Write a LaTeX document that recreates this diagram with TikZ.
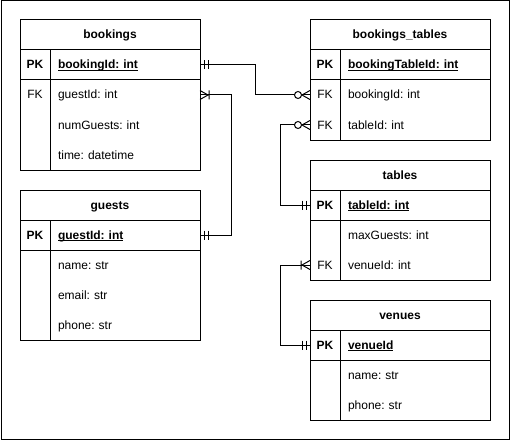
\documentclass[tikz,border=0pt]{standalone}
\usepackage{fontspec}
\setmainfont{Liberation Sans}
\usetikzlibrary{positioning}

\newcommand{\erfont}{\fontsize{12}{14}\selectfont\frenchspacing}
\newcommand{\pkline}[1]{\setbox0\hbox{#1}\rlap{\vrule width\wd0 height -1.3pt depth 2.3pt}\box0}

\tikzstyle{keycell}=[minimum width=30pt, inner sep=0pt, outer sep=0pt, text height=8.5pt, text depth=0.5pt, font=\erfont]
\tikzstyle{pkcell}=[keycell, font=\erfont\bfseries]
\tikzstyle{field}=[anchor=west, text width=134pt, inner xsep=8pt, inner ysep=0pt, outer sep=0pt, text height=8.5pt, text depth=0.5pt, font=\erfont]
\tikzstyle{pkfield}=[field, font=\erfont\bfseries]
\tikzstyle{tabtitle}=[minimum width=180pt, inner sep=0pt, text height=8.5pt, text depth=0.5pt, font=\erfont\bfseries]
\tikzstyle{link}=[line width=1pt]

\tikzset{
  mandone/.pic={\draw[line width=1pt] (4,-4.5) -- (4,4.5) (8,-4.5) -- (8,4.5);},
  onemany/.pic={\draw[line width=1pt] (0,-4.5) -- (8,0) -- (0,4.5) (9,-4.5) -- (9,4.5);},
  zeromany/.pic={\draw[line width=1pt] (0,-4.5) -- (8,0) -- (0,4.5);
    \draw[line width=1pt, fill=white] (12,0) circle (3.5pt);}
}

\begin{document}
\begin{tikzpicture}[x=1pt, y=-1pt, line width=1pt]
      \useasboundingbox (0,0) rectangle (511,441);
      \draw (1,1) rectangle (509.5,439.5);

      % bookings
      \draw (20,20) rectangle (200,170);
      \draw (20,50) -- (200,50) (20,80) -- (200,80) (50,50) -- (50,170);
      \node[tabtitle] (bk) at (110,35) {bookings};
      \node[pkcell] (bk-pkk) at (35,65) {PK};
      \node[pkfield] (bk-pk) at (50,65) {\pkline{bookingId: int}};
      \node[keycell] (bk-fkk) at (35,95) {FK};
      \node[field] (bk-fk) at (50,95) {guestId: int};
      \node[field] (bk-num) at (50,125) {numGuests: int};
      \node[field] (bk-time) at (50,155) {time: datetime};

      % guests
      \draw (20,190) rectangle (200,340);
      \draw (20,220) -- (200,220) (20,250) -- (200,250) (50,220) -- (50,340);
      \node[tabtitle] (gu) at (110,205) {guests};
      \node[pkcell] (gu-pkk) at (35,235) {PK};
      \node[pkfield] (gu-pk) at (50,235) {\pkline{guestId: int}};
      \node[field] (gu-name) at (50,265) {name: str};
      \node[field] (gu-mail) at (50,295) {email: str};
      \node[field] (gu-phone) at (50,325) {phone: str};

      % bookings_tables
      \draw (310,20) rectangle (490,140);
      \draw (310,50) -- (490,50) (310,80) -- (490,80) (340,50) -- (340,140);
      \node[tabtitle] (bt) at (400,35) {bookings\_tables};
      \node[pkcell] (bt-pkk) at (325,65) {PK};
      \node[pkfield] (bt-pk) at (340,65) {\pkline{bookingTableId: int}};
      \node[keycell] (bt-fkb) at (325,95) {FK};
      \node[field] (bt-bk) at (340,95) {bookingId: int};
      \node[keycell] (bt-fkt) at (325,125) {FK};
      \node[field] (bt-tb) at (340,125) {tableId: int};

      % tables
      \draw (310,160) rectangle (490,280);
      \draw (310,190) -- (490,190) (310,220) -- (490,220) (340,190) -- (340,280);
      \node[tabtitle] (tb) at (400,175) {tables};
      \node[pkcell] (tb-pkk) at (325,205) {PK};
      \node[pkfield] (tb-pk) at (340,205) {\pkline{tableId: int}};
      \node[field] (tb-max) at (340,235) {maxGuests: int};
      \node[keycell] (tb-fkv) at (325,265) {FK};
      \node[field] (tb-vn) at (340,265) {venueId: int};

      % venues
      \draw (310,300) rectangle (490,420);
      \draw (310,330) -- (490,330) (310,360) -- (490,360) (340,330) -- (340,420);
      \node[tabtitle] (vn) at (400,315) {venues};
      \node[pkcell] (vn-pkk) at (325,345) {PK};
      \node[pkfield] (vn-pk) at (340,345) {\pkline{venueId}};
      \node[field] (vn-name) at (340,375) {name: str};
      \node[field] (vn-phone) at (340,405) {phone: str};

      % relations
      \draw[link] (bk-pk.east) -- ++(55,0) |- (bt-fkb.west);
      \draw[link] (bk-fk.east) -- ++(31,0) |- (gu-pk.east);
      \draw[link] (bt-fkt.west) -- ++(-30,0) |- (tb-pkk.west);
      \draw[link] (tb-fkv.west) -- ++(-30,0) |- (vn-pkk.west);

      \pic at (bk-pk.east) {mandone};
      \pic at (bk-fk.east) {onemany};
      \pic at (gu-pk.east) {mandone};
      \pic[xscale=-1] at (bt-fkb.west) {zeromany};
      \pic[xscale=-1] at (bt-fkt.west) {zeromany};
      \pic[xscale=-1] at (tb-pkk.west) {mandone};
      \pic[xscale=-1] at (tb-fkv.west) {onemany};
      \pic[xscale=-1] at (vn-pkk.west) {mandone};
    \end{tikzpicture}
\end{document}
